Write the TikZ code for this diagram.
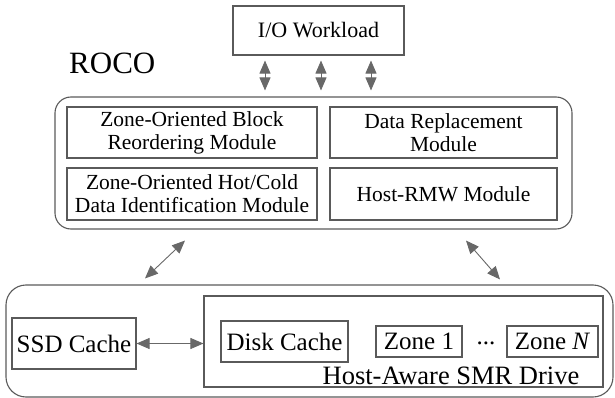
\documentclass[tikz,border=0pt]{standalone}
\usepackage{fontspec}
\setmainfont{Liberation Serif}
\usetikzlibrary{arrows.meta,calc}

\definecolor{boxgray}{HTML}{5A5A5A}
\definecolor{arrowgray}{HTML}{686868}

\begin{document}
\begin{tikzpicture}[x=1pt, y=-1pt,
    modbox/.style={draw=boxgray, line width=1.1pt, inner sep=0pt, align=center,
        font=\fontsize{21.5}{23}\selectfont},
    cachebox/.style={draw=boxgray, line width=1.1pt, inner sep=0pt,
        font=\fontsize{25}{27}\selectfont},
    groupbox/.style={draw=boxgray, line width=1.1pt, inner sep=0pt},
    biarrow/.style={draw=arrowgray, line width=0.9pt,
        {Triangle[length=13pt,width=11pt]}-{Triangle[length=13pt,width=11pt]}, color=arrowgray}]
    \useasboundingbox (0,0) rectangle (615,398);

    % top part
    \node[modbox, minimum width=171pt, minimum height=49pt,
        font=\fontsize{22}{24}\selectfont] (io) at (318.5,30.5) {I/O Workload};
    \node[anchor=base west, inner sep=0pt, font=\fontsize{31}{33}\selectfont]
        (rocolabel) at (69,74) {ROCO};
    \node[groupbox, rounded corners=16pt, minimum width=517pt, minimum height=132pt]
        (rocobox) at (313.5,163) {};
    \node[modbox, minimum width=250pt, minimum height=51pt] (reorder) at (192,132.5)
        {Zone-Oriented Block\\Reordering Module};
    \node[modbox, minimum width=227pt, minimum height=51pt] (replace) at (443.5,132.5)
        {Data Replacement\\Module};
    \node[modbox, minimum width=250pt, minimum height=52pt] (hotcold) at (192,194)
        {Zone-Oriented Hot/Cold\\Data Identification Module};
    \node[modbox, minimum width=227pt, minimum height=52pt] (rmw) at (443.5,194)
        {Host-RMW Module};
    \foreach \dx in {-53.5,2.5,52.5} {
        \draw[biarrow]
            ($(io.south)+(\dx,5)$)
            -- ($(io.south |- rocobox.north)+(\dx,-6)$);
    }

    % bottom part
    \node[groupbox, rounded corners=20pt, minimum width=607pt, minimum height=112pt]
        (storage) at (309.5,341) {};
    \node[cachebox, minimum width=124pt, minimum height=51pt] (ssd) at (74,343.5) {SSD Cache};
    \node[groupbox, minimum width=399pt, minimum height=91pt] (smr) at (403.5,341.5) {};
    \node[cachebox, minimum width=127pt, minimum height=41pt] (disk) at (284.5,341.5) {Disk Cache};
    \node[cachebox, minimum width=86pt, minimum height=31pt] (zone1) at (419,341.5) {Zone 1};
    \node[inner sep=0pt, font=\fontsize{25}{27}\selectfont] (zdots) at (486,343) {...};
    \node[cachebox, minimum width=91pt, minimum height=31pt] (zonen) at (552.5,341.5)
        {Zone \textit{N}};
    \node[anchor=base, inner sep=0pt, font=\fontsize{26.5}{28}\selectfont]
        (smrlabel) at (451,384) {Host-Aware SMR Drive};
    \draw[biarrow] (ssd.east) -- (ssd.east -| smr.west);

    % links between the parts
    \draw[biarrow] ($(rocobox.south)+(-128.5,11)$) -- ($(storage.north)+(-164.5,-6)$);
    \draw[biarrow] ($(rocobox.south)+(152.5,11)$) -- ($(storage.north)+(190.5,-5)$);
\end{tikzpicture}
\end{document}
